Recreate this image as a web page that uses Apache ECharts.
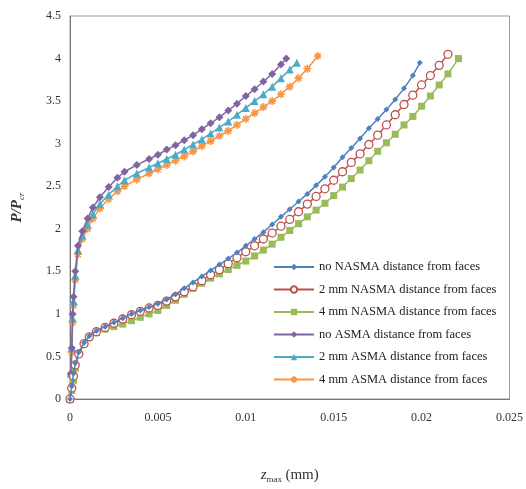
<!DOCTYPE html>
<html>
<head>
<meta charset="utf-8">
<script src="https://cdn.jsdelivr.net/npm/echarts@6/dist/echarts.min.js"></script>
<style>html,body{margin:0;padding:0;background:#fff}#c{width:526px;height:489px}</style>
</head>
<body>
<div id="c"></div>
<script>
// Series names
var names = [
  'no NASMA distance from faces',
  '2 mm NASMA distance from faces',
  '4 mm NASMA distance from faces',
  'no ASMA distance from faces',
  '2 mm ASMA distance from faces',
  '4 mm ASMA distance from faces'
];
// NASMA x values (mm)
var xNoNasma = [0,0.0001,0.0002,0.0003,0.0005,0.0008,0.0011,0.0015,0.002,0.0025,0.003,0.0035,0.004,0.0045,0.005,0.0055,0.006,0.0065,0.007,0.0075,0.008,0.0085,0.009,0.0095,0.01,0.0105,0.011,0.0115,0.012,0.0125,0.013,0.0135,0.014,0.0145,0.015,0.0155,0.016,0.0165,0.017,0.0175,0.018,0.0185,0.019,0.0195,0.0199];
var yNoNasma = [0,0.15,0.3,0.42,0.55,0.66,0.74,0.8,0.85,0.9,0.95,1.0,1.04,1.08,1.12,1.17,1.23,1.3,1.37,1.44,1.51,1.58,1.65,1.72,1.8,1.88,1.96,2.05,2.14,2.23,2.32,2.41,2.51,2.61,2.72,2.84,2.95,3.06,3.18,3.29,3.4,3.52,3.65,3.8,3.95];
var x2Nasma = [0,0.0001,0.0002,0.0003,0.0005,0.0008,0.0011,0.0015,0.002,0.0025,0.003,0.0035,0.004,0.0045,0.005,0.0055,0.006,0.0065,0.007,0.0075,0.008,0.0085,0.009,0.0095,0.01,0.0105,0.011,0.0115,0.012,0.0125,0.013,0.0135,0.014,0.0145,0.015,0.0155,0.016,0.0165,0.017,0.0175,0.018,0.0185,0.019,0.0195,0.02,0.0205,0.021,0.0215];
var y2Nasma = [0,0.13,0.27,0.4,0.53,0.65,0.73,0.79,0.84,0.89,0.94,0.99,1.03,1.07,1.1,1.15,1.2,1.26,1.32,1.39,1.46,1.52,1.59,1.66,1.73,1.8,1.88,1.95,2.03,2.11,2.2,2.29,2.38,2.47,2.57,2.67,2.78,2.88,2.99,3.1,3.22,3.34,3.46,3.57,3.69,3.8,3.92,4.05];
var x4Nasma = [0,0.0001,0.0002,0.0003,0.0005,0.0008,0.0011,0.0015,0.002,0.0025,0.003,0.0035,0.004,0.0045,0.005,0.0055,0.006,0.0065,0.007,0.0075,0.008,0.0085,0.009,0.0095,0.01,0.0105,0.011,0.0115,0.012,0.0125,0.013,0.0135,0.014,0.0145,0.015,0.0155,0.016,0.0165,0.017,0.0175,0.018,0.0185,0.019,0.0195,0.02,0.0205,0.021,0.0215,0.0221];
var y4Nasma = [0,0.1,0.22,0.36,0.53,0.65,0.73,0.78,0.82,0.85,0.88,0.92,0.96,1.0,1.04,1.1,1.16,1.23,1.3,1.36,1.42,1.47,1.52,1.57,1.62,1.68,1.75,1.82,1.9,1.98,2.06,2.14,2.22,2.3,2.39,2.49,2.59,2.69,2.8,2.91,3.01,3.11,3.22,3.32,3.44,3.56,3.69,3.82,4.0];
// ASMA
var xNoAsma = [0,0.00005,0.0001,0.00015,0.0002,0.0003,0.00045,0.0007,0.001,0.0013,0.0017,0.0022,0.0027,0.0031,0.0038,0.0045,0.005,0.0055,0.006,0.0065,0.007,0.0075,0.008,0.0085,0.009,0.0095,0.01,0.0105,0.011,0.0115,0.012,0.0123];
var yNoAsma = [0,0.3,0.6,1.0,1.2,1.5,1.8,1.97,2.12,2.25,2.37,2.49,2.6,2.67,2.75,2.82,2.87,2.93,2.98,3.04,3.1,3.17,3.24,3.31,3.39,3.47,3.56,3.64,3.73,3.82,3.93,4.0];
var x2Asma = [0,0.00005,0.0001,0.00015,0.0002,0.0003,0.00045,0.0007,0.001,0.0013,0.0017,0.0022,0.0027,0.0031,0.0038,0.0045,0.005,0.0055,0.006,0.0065,0.007,0.0075,0.008,0.0085,0.009,0.0095,0.01,0.0105,0.011,0.0115,0.012,0.0125,0.0129];
var y2Asma = [0,0.3,0.6,0.95,1.15,1.45,1.75,1.92,2.05,2.17,2.29,2.4,2.5,2.57,2.65,2.72,2.77,2.82,2.87,2.93,2.99,3.05,3.12,3.19,3.26,3.34,3.42,3.5,3.58,3.67,3.77,3.87,3.95];
var x4Asma = [0,0.00005,0.0001,0.00015,0.0002,0.0003,0.00045,0.0007,0.001,0.0013,0.0017,0.0022,0.0027,0.0031,0.0038,0.0045,0.005,0.0055,0.006,0.0065,0.007,0.0075,0.008,0.0085,0.009,0.0095,0.01,0.0105,0.011,0.0115,0.012,0.0125,0.013,0.0135,0.0141];
var y4Asma = [0,0.28,0.55,0.9,1.1,1.4,1.7,1.88,2.0,2.12,2.24,2.35,2.44,2.5,2.58,2.65,2.7,2.75,2.8,2.85,2.91,2.97,3.03,3.09,3.15,3.22,3.29,3.36,3.43,3.5,3.58,3.67,3.77,3.88,4.03];

var xTicks = [0,0.005,0.01,0.015,0.02,0.025];
var yTicks = [0,0.5,1,1.5,2,2.5,3,3.5,4,4.5];

function zip(xs, ys){ return xs.map(function(x,i){ return [x, ys[i]]; }); }

var colors = ['#4F81BD','#C0504D','#9BBB59','#8064A2','#4BACC6','#F79646'];
var star = 'path://M5 0L5 10M0 5L10 5M1.5 1.5L8.5 8.5M8.5 1.5L1.5 8.5';
var symbols = ['diamond','circle','rect','diamond','triangle',star];
var sizes = [6,8,7,8,8,8];
var xsAll = [xNoNasma,x2Nasma,x4Nasma,xNoAsma,x2Asma,x4Asma];
var ysAll = [yNoNasma,y2Nasma,y4Nasma,yNoAsma,y2Asma,y4Asma];

var series = names.map(function(n,i){
  var s = {
    name: n, type: 'line', data: zip(xsAll[i], ysAll[i]),
    symbol: symbols[i], symbolSize: sizes[i], showAllSymbol: true,
    lineStyle: {color: colors[i], width: 1.5},
    itemStyle: {color: colors[i], borderColor: colors[i], borderWidth: 0},
    animation: false, z: 10 - i
  };
  if (i === 5) { s.itemStyle = {color: colors[i], borderColor: colors[i], borderWidth: 1.6}; }
  if (i === 1) { s.itemStyle = {color: '#ffffff', borderColor: colors[i], borderWidth: 1.3}; }
  return s;
});

var chart = echarts.init(document.getElementById('c'), null, {renderer: 'canvas'});
chart.setOption({
  backgroundColor: '#fff',
  color: colors,
  grid: {left: 70, right: 16, top: 16, bottom: 85, show: true, borderColor: '#9a9a9a', borderWidth: 1},
  legend: {
    orient: 'vertical', left: 268, top: 255, itemWidth: 40, itemHeight: 8, itemGap: 8.5,
    textStyle: {fontFamily: 'Liberation Serif', fontSize: 12.5, lineHeight: 14, color: '#222'},
    data: names
  },
  xAxis: {
    type: 'value', min: xTicks[0], max: xTicks[xTicks.length-1], interval: 0.005,
    axisLine: {show: true, onZero: false, lineStyle: {color: '#777'}},
    axisTick: {show: false}, splitLine: {show: false},
    axisLabel: {fontFamily: 'Liberation Serif', fontSize: 12, color: '#333', margin: 13},
    name: '{i|z}{s|max} {n|(mm)}', nameLocation: 'middle', nameGap: 68,
    nameTextStyle: {rich: {
      i: {fontFamily: 'Liberation Serif', fontStyle: 'italic', fontSize: 15, color: '#333'},
      s: {fontFamily: 'Liberation Serif', fontSize: 9, color: '#333', verticalAlign: 'bottom', padding: [8,0,0,0]},
      n: {fontFamily: 'Liberation Serif', fontSize: 15, color: '#333'}
    }}
  },
  yAxis: {
    type: 'value', min: yTicks[0], max: yTicks[yTicks.length-1], interval: 0.5,
    axisLine: {show: true, lineStyle: {color: '#777'}},
    axisTick: {show: false}, splitLine: {show: false},
    axisLabel: {fontFamily: 'Liberation Serif', fontSize: 12, color: '#333', margin: 9},
    name: '{i|P/P}{s|cr}', nameLocation: 'middle', nameGap: 44, nameRotate: 90,
    nameTextStyle: {rich: {
      i: {fontFamily: 'Liberation Serif', fontStyle: 'italic', fontWeight: 'bold', fontSize: 15, color: '#333'},
      s: {fontFamily: 'Liberation Serif', fontStyle: 'italic', fontSize: 9, color: '#333', padding: [8,0,0,0]}
    }}
  },
  series: series
});
</script>
</body>
</html>
